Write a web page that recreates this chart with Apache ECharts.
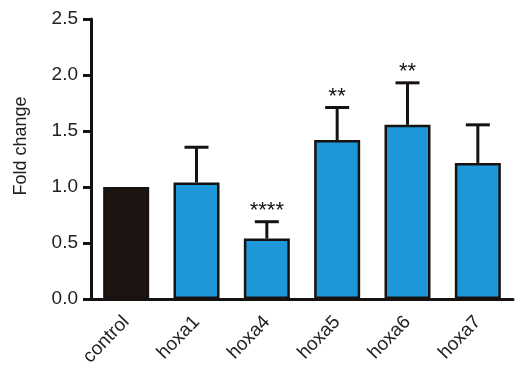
<!DOCTYPE html>
<html><head><meta charset="utf-8">
<script src="https://cdn.jsdelivr.net/npm/echarts@6/dist/echarts.min.js"></script>
<style>html,body{margin:0;padding:0;background:#fff}#c{width:522px;height:379px}</style>
</head><body><div id="c"></div>
<script>
var categories = ['control', 'hoxa1', 'hoxa4', 'hoxa5', 'hoxa6', 'hoxa7'];
var values = [1.0, 1.04, 0.54, 1.42, 1.555, 1.215];
var errTops = [null, 1.355, 0.69, 1.71, 1.93, 1.555];
var stars = ['', '', '****', '**', '**', ''];
var barColors = ['#1e1512', '#1E97D8', '#1E97D8', '#1E97D8', '#1E97D8', '#1E97D8'];
var yTicks = [0, 0.5, 1.0, 1.5, 2.0, 2.5];

var font = '"Liberation Sans", Arial, sans-serif';
var chart = echarts.init(document.getElementById('c'));
var errData = categories.map(function (c, i) { return [i, values[i], errTops[i], stars[i]]; });
chart.setOption({
  animation: false,
  grid: { left: 91, right: 9, top: 19, bottom: 80, containLabel: false },
  xAxis: {
    type: 'category', data: categories,
    axisLine: { lineStyle: { color: '#161210', width: 3 } },
    axisTick: { alignWithLabel: true, length: 8, lineStyle: { color: '#161210', width: 3 } },
    axisLabel: { rotate: 46, fontSize: 19, color: '#222', fontFamily: font, margin: 20 }
  },
  yAxis: {
    type: 'value', min: 0, max: 2.5, interval: 0.5,
    name: 'Fold change', nameLocation: 'middle', nameGap: 61,
    nameTextStyle: { fontSize: 18, color: '#222', fontFamily: font, padding: [0, 0, 0, 26] },
    splitLine: { show: false },
    axisLine: { show: true, lineStyle: { color: '#161210', width: 3 } },
    axisTick: { show: true, length: 8, lineStyle: { color: '#161210', width: 3 } },
    axisLabel: { fontSize: 19, color: '#222', fontFamily: font, margin: 13,
      formatter: function (v) { return v.toFixed(1); } }
  },
  series: [
    {
      type: 'bar', barWidth: 46,
      data: values.map(function (v, i) {
        return { value: v, itemStyle: { color: barColors[i] } };
      }),
      itemStyle: { borderColor: '#161210', borderWidth: 2.5 },
      z: 2
    },
    {
      type: 'custom', z: 1,
      data: errData,
      renderItem: function (params, api) {
        if (api.value(2) == null || isNaN(api.value(2))) {
          return { type: 'group', children: [] };
        }
        var base = api.coord([api.value(0), api.value(1)]);
        var top = api.coord([api.value(0), api.value(2)]);
        var children = [
          { type: 'line', shape: { x1: base[0], y1: base[1], x2: top[0], y2: top[1] },
            style: { stroke: '#161210', lineWidth: 3 } },
          { type: 'line', shape: { x1: top[0] - 12, y1: top[1], x2: top[0] + 12, y2: top[1] },
            style: { stroke: '#161210', lineWidth: 3 } }
        ];
        var s = api.value(3);
        if (s) {
          children.push({ type: 'text', z2: 10,
            style: { text: s, x: top[0], y: top[1] - 11, align: 'center', verticalAlign: 'middle',
              fill: '#161210', fontSize: 22, fontFamily: font } });
        }
        return { type: 'group', children: children };
      }
    }
  ]
});
</script></body></html>
